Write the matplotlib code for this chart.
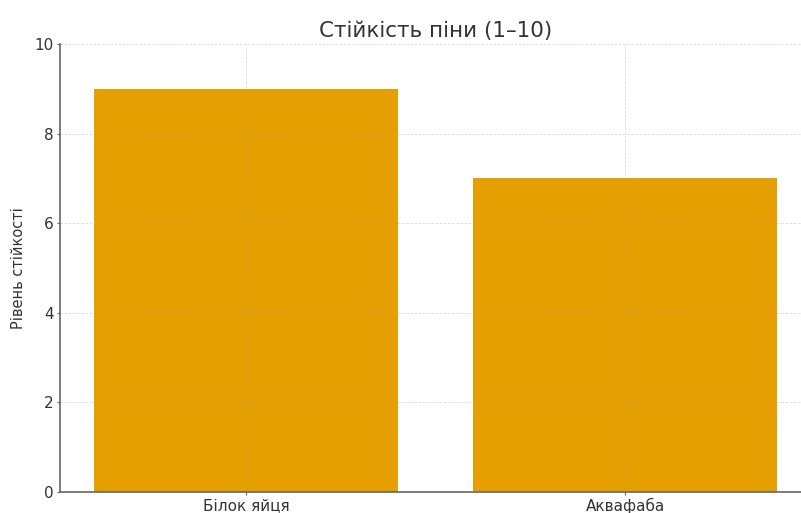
import matplotlib
matplotlib.use("Agg")
import matplotlib.pyplot as plt

categories = ["Білок яйця", "Аквафаба"]
values = [9, 7]
yticks = [0, 2, 4, 6, 8, 10]

plt.rcParams['font.family'] = ['DejaVu Sans']
fig = plt.figure(figsize=(8.01, 5.13), dpi=100)
ax = fig.add_axes([60/801, 21/513, 751/801, 448/513])

ax.bar(categories, values, width=0.8, color="#E59F00", zorder=1)
ax.set_ylim(0, 10)
ax.set_yticks(yticks)
ax.set_title("Стійкість піни (1–10)", fontsize=15.5, color="#333333", pad=5)
ax.set_ylabel("Рівень стійкості", fontsize=10.5, color="#333333", labelpad=6)
ax.grid(True, linestyle=(0, (3, 2)), linewidth=0.6, color="#a0a0a0", alpha=0.4, zorder=2)
ax.set_axisbelow(False)
for s in ["top", "right"]:
    ax.spines[s].set_visible(False)
for s in ["left", "bottom"]:
    ax.spines[s].set_color("#666666")
    ax.spines[s].set_linewidth(1.2)
ax.tick_params(axis="both", colors="#666666", labelcolor="#333333", labelsize=11, length=2.5, pad=2)
fig.savefig("out.png", dpi=100)
